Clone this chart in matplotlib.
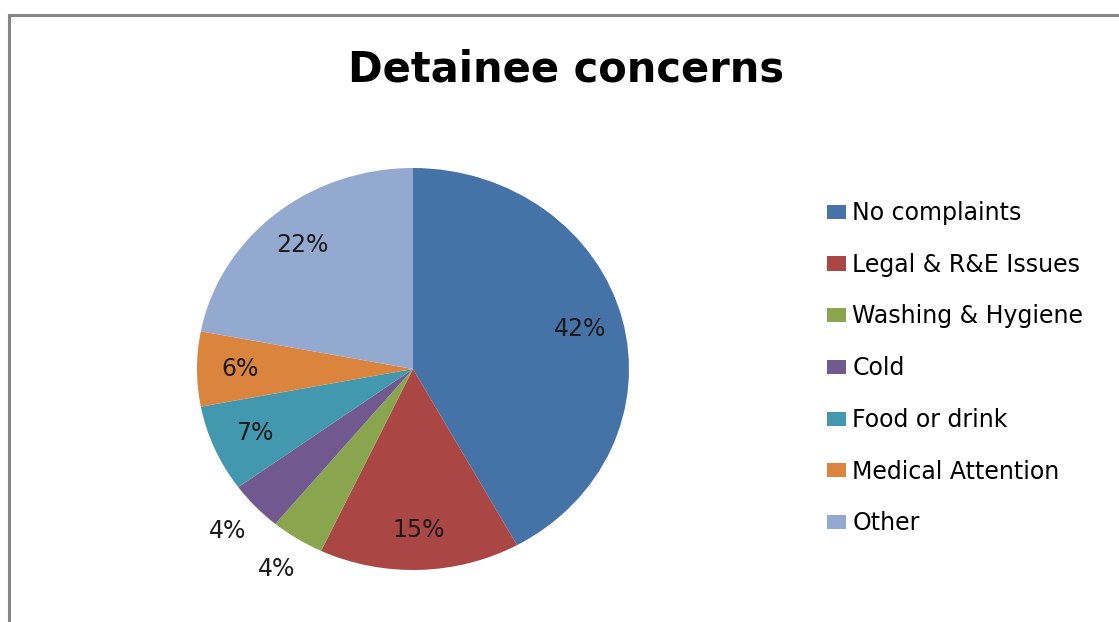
import numpy as np
import matplotlib
matplotlib.use("Agg")
import matplotlib.pyplot as plt
from matplotlib.lines import Line2D
from matplotlib.patches import Patch

# detainee concerns (percent)
labels = ['No complaints', 'Legal & R&E Issues', 'Washing & Hygiene', 'Cold',
          'Food or drink', 'Medical Attention', 'Other']
values = [42, 15, 4, 4, 7, 6, 22]
colors = ['#4572A7', '#AA4643', '#89A54E', '#71588F', '#4198AF', '#DB843D', '#93A9CF']

W, H = 1119, 622
fig = plt.figure(figsize=(W / 100, H / 100), dpi=100)
font = 'DejaVu Sans'

# pie area (a bit wider than tall, like the Excel original)
ax = fig.add_axes([197 / W, 1 - 570 / H, 432 / W, 402 / H])
wedges, _ = ax.pie(values, colors=colors, startangle=90, counterclock=False,
                   radius=1, wedgeprops=dict(linewidth=0))
ax.set_xlim(-1, 1)
ax.set_ylim(-1, 1)
ax.set_aspect('auto')
ax.axis('off')

# percentage labels: inside for big slices, outside for the tiny ones
total = sum(values)
for w, v in zip(wedges, values):
    mid = np.deg2rad((w.theta1 + w.theta2) / 2)
    r = 1.18 if v / total < 0.05 else 0.8
    ax.text(r * np.cos(mid), r * np.sin(mid), '%d%%' % round(100 * v / total),
            ha='center', va='center', fontsize=17, family=font, color='#1a1a1a')

fig.text(566 / W, 1 - 70 / H, 'Detainee concerns', ha='center', va='center',
         fontsize=30, fontweight='bold', family=font)

handles = [Patch(facecolor=c, edgecolor='none') for c in colors]
fig.legend(handles, labels, loc='upper left', bbox_to_anchor=(827 / W, 1 - 201 / H),
           frameon=False, prop={'family': font, 'size': 17},
           handlelength=0.8, handleheight=0.55, handletextpad=0.28,
           labelspacing=1.175, borderaxespad=0, borderpad=0)

# chart area border (top and left visible)
fig.add_artist(Line2D([9 / W, 1], [1 - 15 / H, 1 - 15 / H], color='#868686', lw=2.2))
fig.add_artist(Line2D([9 / W, 9 / W], [0, 1 - 15 / H], color='#868686', lw=2.2))

fig.savefig('out.png', dpi=100)
